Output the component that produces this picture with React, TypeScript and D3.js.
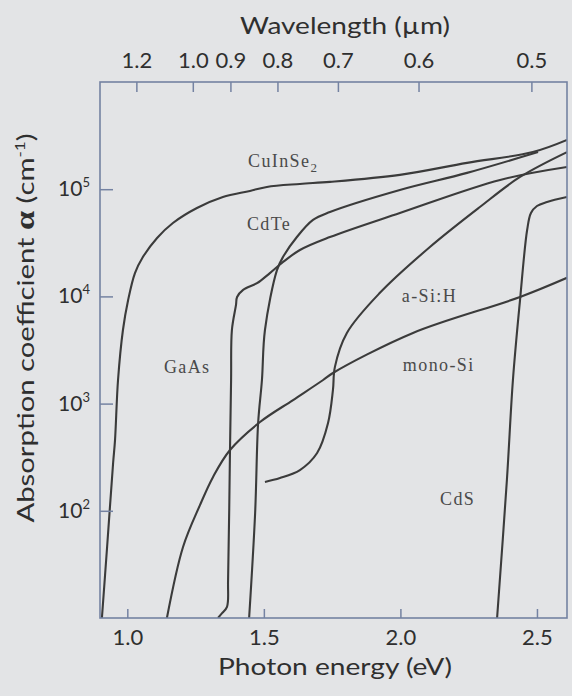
import { useEffect, useRef } from 'react'
import * as d3 from 'd3'

// photon energy (eV) vs absorption coefficient (cm^-1)
const cuInSe2: [number, number][] = [
  [0.907, 10], [0.926, 46], [0.948, 279], [0.955, 457], [0.966, 1660],
  [0.984, 4860], [1.003, 9250], [1.028, 1.65e4], [1.057, 2.33e4], [1.109, 3.51e4],
  [1.167, 4.84e4], [1.255, 6.68e4], [1.35, 8.46e4], [1.449, 9.62e4], [1.511, 1.05e5],
  [1.632, 1.12e5], [1.742, 1.17e5], [1.998, 1.36e5], [2.244, 1.76e5], [2.485, 2.22e5],
  [2.61, 2.88e5],
]

const cdTe: [number, number][] = [
  [1.446, 10], [1.468, 95], [1.479, 659], [1.493, 1660], [1.504, 4860],
  [1.548, 1.76e4], [1.57, 2.33e4], [1.621, 3.58e4], [1.68, 5.17e4], [1.742, 6.13e4],
  [1.998, 9.84e4], [2.244, 1.42e5], [2.504, 2.22e5],
]

const gaAs: [number, number][] = [
  [1.332, 10], [1.347, 11.1], [1.365, 12.7], [1.369, 22.6], [1.376, 369],
  [1.38, 1660], [1.383, 4860], [1.398, 8320], [1.402, 9870], [1.424, 1.15e4],
  [1.475, 1.33e4], [1.522, 1.65e4], [1.566, 2.05e4], [1.632, 2.71e4], [1.742, 3.58e4],
  [1.998, 6.0e4], [2.365, 1.22e5], [2.61, 1.61e5],
]

const aSiH: [number, number][] = [
  [1.504, 186], [1.559, 202], [1.632, 240], [1.695, 346], [1.735, 659],
  [1.753, 1340], [1.76, 2190], [1.804, 4560], [1.925, 1.08e4], [2.108, 2.89e4],
  [2.291, 6.82e4], [2.438, 1.3e5], [2.61, 2.22e5],
]

const monoSi: [number, number][] = [
  [1.145, 10], [1.204, 46], [1.266, 113], [1.314, 207], [1.376, 369],
  [1.486, 673], [1.607, 1080], [1.717, 1660], [1.753, 1930], [2.046, 4560],
  [2.438, 9870], [2.61, 1.49e4],
]

const cdS: [number, number][] = [
  [2.354, 10], [2.39, 195], [2.412, 1660], [2.438, 9250], [2.464, 4.16e4],
  [2.478, 6.0e4], [2.5, 6.97e4], [2.537, 7.6e4], [2.61, 8.46e4],
]

const SERIES = [cuInSe2, cdTe, gaAs, aSiH, monoSi, cdS]

// curve labels: text, subscript, anchor energy, anchor alpha
const LABELS: [string, string, number, number][] = [
  ['CuInSe', '2', 1.442, 1.61e5],
  ['CdTe', '', 1.438, 4.16e4],
  ['GaAs', '', 1.134, 1930],
  ['a-Si:H', '', 2.005, 8870],
  ['mono-Si', '', 2.009, 2010],
  ['CdS', '', 2.145, 113],
]

const ENERGY_TICKS = [1.0, 1.5, 2.0, 2.5]
const ALPHA_TICKS = [1e2, 1e3, 1e4, 1e5]
const WAVELENGTH_TICKS = [1.2, 1.0, 0.9, 0.8, 0.7, 0.6, 0.5]

const HC = 1.2398 // eV * um

const W = 572
const H = 696

export default function App() {
  const svgRef = useRef<SVGSVGElement>(null)

  useEffect(() => {
    if (!svgRef.current) return
    const svg = d3.select(svgRef.current)
    svg.selectAll('*').remove()

    const left = 100
    const right = 567
    const top = 82
    const bottom = 618

    const frameColor = '#7482a2'
    const ink = '#2f2f2f'
    const sans = 'Lato, "Open Sans", sans-serif'

    const x = d3.scaleLinear().domain([0.9, 2.61]).range([left, right])
    const y = d3.scaleLog().domain([10, 1e6]).range([bottom, top])

    svg.append('rect').attr('width', W).attr('height', H).attr('fill', '#e3e4e6')

    svg.append('clipPath').attr('id', 'plot-clip')
      .append('rect')
      .attr('x', left).attr('y', top)
      .attr('width', right - left).attr('height', bottom - top)

    // curves
    const line = d3.line<[number, number]>()
      .x(d => x(d[0]))
      .y(d => y(d[1]))
      .curve(d3.curveCatmullRom.alpha(0.5))

    svg.append('g')
      .attr('clip-path', 'url(#plot-clip)')
      .selectAll('path')
      .data(SERIES)
      .join('path')
      .attr('d', d => line(d))
      .attr('fill', 'none')
      .attr('stroke', '#3b3b3b')
      .attr('stroke-width', 2.1)
      .attr('stroke-linejoin', 'round')

    // curve labels
    LABELS.forEach(([txt, sub, e, a]) => {
      const t = svg.append('text')
        .attr('x', x(e))
        .attr('y', y(a))
        .attr('font-family', '"Liberation Serif", "Times New Roman", serif')
        .attr('font-size', 18)
        .attr('letter-spacing', 1.4)
        .attr('fill', '#4a4a4a')
      t.append('tspan').text(txt)
      if (sub) t.append('tspan').attr('font-size', 13).attr('dy', 5).text(sub)
    })

    // bottom axis
    const gb = svg.append('g')
      .attr('transform', `translate(0,${bottom})`)
      .call(d3.axisBottom(x).tickValues(ENERGY_TICKS).tickSize(-9).tickFormat(d3.format('.1f')))
    gb.select('.domain').remove()
    gb.selectAll('line').attr('stroke', frameColor).attr('stroke-width', 1.5)
    gb.selectAll('text')
      .attr('y', 27).attr('dy', null)
      .attr('font-size', 22).attr('font-family', sans).attr('fill', ink)

    // top axis: wavelength, placed at E = hc / lambda
    const gt = svg.append('g')
      .attr('transform', `translate(0,${top})`)
      .call(
        d3.axisTop(x)
          .tickValues(WAVELENGTH_TICKS.map(l => HC / l))
          .tickSize(-10)
          .tickFormat(e => d3.format('.1f')(HC / (e as number)))
      )
    gt.select('.domain').remove()
    gt.selectAll('line').attr('stroke', frameColor).attr('stroke-width', 1.5)
    gt.selectAll('text')
      .attr('y', -14).attr('dy', null)
      .attr('font-size', 22).attr('font-family', sans).attr('fill', ink)

    // left axis
    const gl = svg.append('g')
      .attr('transform', `translate(${left},0)`)
      .call(d3.axisLeft(y).tickValues(ALPHA_TICKS).tickSize(-13).tickFormat(() => ''))
    gl.select('.domain').remove()
    gl.selectAll('line').attr('stroke', frameColor).attr('stroke-width', 1.5)

    ALPHA_TICKS.forEach(t => {
      const lab = svg.append('text')
        .attr('x', 90)
        .attr('y', y(t) + 7)
        .attr('text-anchor', 'end')
        .attr('font-family', sans)
        .attr('font-size', 21)
        .attr('fill', ink)
      lab.append('tspan').text('10')
      lab.append('tspan').attr('font-size', 13).attr('dy', -9).text(Math.round(Math.log10(t)))
    })

    // frame
    svg.append('rect')
      .attr('x', left).attr('y', top)
      .attr('width', right - left).attr('height', bottom - top)
      .attr('fill', 'none')
      .attr('stroke', frameColor)
      .attr('stroke-width', 1.6)

    // axis titles
    svg.append('text')
      .attr('x', 345).attr('y', 34)
      .attr('text-anchor', 'middle')
      .attr('font-family', sans).attr('font-size', 24).attr('fill', ink)
      .attr('textLength', 210).attr('lengthAdjust', 'spacingAndGlyphs')
      .text('Wavelength (µm)')

    svg.append('text')
      .attr('x', 335).attr('y', 675)
      .attr('text-anchor', 'middle')
      .attr('font-family', sans).attr('font-size', 24).attr('fill', ink)
      .attr('textLength', 234).attr('lengthAdjust', 'spacingAndGlyphs')
      .text('Photon energy (eV)')

    const yt = svg.append('text')
      .attr('transform', 'translate(34,328) rotate(-90)')
      .attr('text-anchor', 'middle')
      .attr('font-family', sans).attr('font-size', 24).attr('fill', ink)
      .attr('textLength', 389).attr('lengthAdjust', 'spacingAndGlyphs')
    yt.append('tspan').text('Absorption coefficient ')
    yt.append('tspan')
      .attr('font-family', '"Liberation Serif", serif')
      .attr('font-weight', 'bold')
      .attr('font-size', 28)
      .text('α')
    yt.append('tspan').text(' (cm')
    yt.append('tspan').attr('font-size', 14).attr('dy', -9).text('-1')
    yt.append('tspan').attr('dy', 9).text(')')
  }, [])

  return (
    <svg
      ref={svgRef}
      width={W}
      height={H}
      style={{ position: 'absolute', left: 0, top: 0, display: 'block' }}
    />
  )
}
